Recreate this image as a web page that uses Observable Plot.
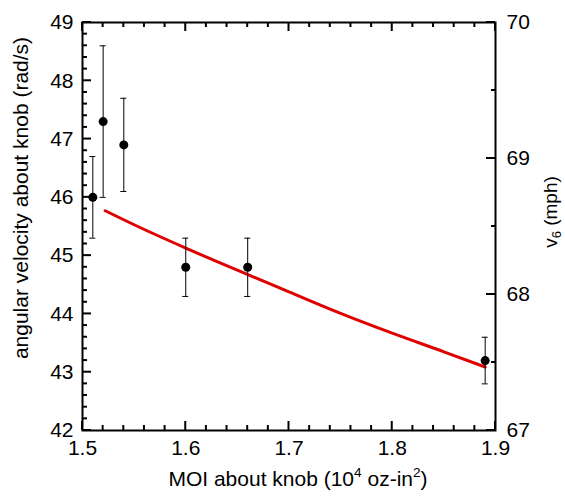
<!DOCTYPE html>
<html><head><meta charset="utf-8">
<script src="https://cdn.jsdelivr.net/npm/d3@7"></script>
<script src="https://cdn.jsdelivr.net/npm/@observablehq/plot@0.6"></script>
<style>
body{margin:0;background:#fff}
svg{font-family:"Liberation Sans",Arial,Helvetica,sans-serif}
</style>
</head><body><div id="chart"></div>
<script>
// measured data points with error bars
const moi = [1.51, 1.52, 1.54, 1.60, 1.66, 1.89];
const omega = [46.0, 47.3, 46.9, 44.8, 44.8, 43.2];
const errLow = [45.3, 46.0, 46.1, 44.3, 44.3, 42.8];
const errHigh = [46.7, 48.6, 47.7, 45.3, 45.3, 43.6];
// model curve
const fitMoi = [1.522, 1.55, 1.60, 1.65, 1.70, 1.75, 1.80, 1.85, 1.89];
const fitOmega = [45.77, 45.53, 45.13, 44.75, 44.38, 44.01, 43.67, 43.35, 43.09];
// axes
const xDomain = [1.5, 1.9];
const xTicks = [1.5, 1.6, 1.7, 1.8, 1.9];
const xMinor = [1.52,1.54,1.56,1.58,1.62,1.64,1.66,1.68,1.72,1.74,1.76,1.78,1.82,1.84,1.86,1.88];
const yDomain = [42, 49];
const yTicks = [42, 43, 44, 45, 46, 47, 48, 49];
const yMinor = [42.2,42.4,42.6,42.8,43.2,43.4,43.6,43.8,44.2,44.4,44.6,44.8,45.2,45.4,45.6,45.8,46.2,46.4,46.6,46.8,47.2,47.4,47.6,47.8,48.2,48.4,48.6,48.8];
const rightDomain = [67, 70];
const rightTicks = [67, 68, 69, 70];
const rightMinor = [67.5, 68.5, 69.5];

const toLeft = r => yDomain[0] + (r - rightDomain[0]) * (yDomain[1]-yDomain[0]) / (rightDomain[1]-rightDomain[0]);
const fromLeft = v => rightDomain[0] + (v - yDomain[0]) * (rightDomain[1]-rightDomain[0]) / (yDomain[1]-yDomain[0]);

const W = 565, H = 500, mL = 82, mR = 70, mT = 22, mB = 70;
const idx = moi.map((_, i) => i);
const fidx = fitMoi.map((_, i) => i);
const FS = 21;

const plot = Plot.plot({
  width: W, height: H,
  marginLeft: mL, marginRight: mR, marginTop: mT, marginBottom: mB,
  style: {fontFamily: '"Liberation Sans",Arial,Helvetica,sans-serif', fontSize: FS + "px", background: "#fff"},
  x: {domain: xDomain},
  y: {domain: yDomain},
  marks: [
    Plot.axisX(xTicks, {anchor: "bottom", tickSize: 0, tickPadding: 10, tickFormat: d => d.toFixed(1), label: null, fontSize: FS, fill: "black"}),
    Plot.axisY(yTicks, {anchor: "left", tickSize: 0, tickPadding: 9, tickFormat: d => String(d), label: null, fontSize: FS, fill: "black"}),
    Plot.axisY(rightTicks.map(toLeft), {anchor: "right", tickSize: 0, tickPadding: 11, tickFormat: d => String(Math.round(fromLeft(d))), label: null, fontSize: FS, fill: "black"}),
    Plot.line(fidx, {x: i => fitMoi[i], y: i => fitOmega[i], stroke: "#e00000", strokeWidth: 3, curve: "monotone-x"}),
    Plot.ruleX(idx, {x: i => moi[i], y1: i => errLow[i], y2: i => errHigh[i], stroke: "black", strokeWidth: 1}),
    Plot.ruleY(idx, {y: i => errHigh[i], x1: i => moi[i], x2: i => moi[i], insetLeft: -3, insetRight: -3, stroke: "black", strokeWidth: 1}),
    Plot.ruleY(idx, {y: i => errLow[i], x1: i => moi[i], x2: i => moi[i], insetLeft: -3, insetRight: -3, stroke: "black", strokeWidth: 1}),
    Plot.dot(idx, {x: i => moi[i], y: i => omega[i], r: 4.5, fill: "black", stroke: "none"}),
    Plot.frame({stroke: "black", strokeWidth: 2})
  ]
});

const svg = d3.select(plot);
const sx = v => plot.scale("x").apply(v);
const sy = v => plot.scale("y").apply(v);
const x0 = sx(xDomain[0]), x1 = sx(xDomain[1]);
const yB = sy(yDomain[0]), yT = sy(yDomain[1]);
const g = svg.append("g").attr("stroke", "black").attr("stroke-width", 2);
const addTicks = (vals, len, fn) => vals.forEach(v => { const [a, b, c, d] = fn(v, len); g.append("line").attr("x1", a).attr("y1", b).attr("x2", c).attr("y2", d); });
// bottom and top ticks (inward)
addTicks(xTicks, 9, (v, l) => [sx(v), yB, sx(v), yB - l]);
addTicks(xMinor, 5, (v, l) => [sx(v), yB, sx(v), yB - l]);
addTicks(xTicks, 9, (v, l) => [sx(v), yT, sx(v), yT + l]);
addTicks(xMinor, 5, (v, l) => [sx(v), yT, sx(v), yT + l]);
// left ticks
addTicks(yTicks, 9, (v, l) => [x0, sy(v), x0 + l, sy(v)]);
addTicks(yMinor, 5, (v, l) => [x0, sy(v), x0 + l, sy(v)]);
// right ticks (secondary axis)
addTicks(rightTicks, 9, (v, l) => [x1, sy(toLeft(v)), x1 - l, sy(toLeft(v))]);
addTicks(rightMinor, 4, (v, l) => [x1, sy(toLeft(v)), x1 - l, sy(toLeft(v))]);

// bottom title
const bt = svg.append("text")
  .attr("x", 298).attr("y", 486)
  .attr("text-anchor", "middle").attr("font-size", FS).attr("fill", "black");
bt.append("tspan").text("MOI about knob (10");
bt.append("tspan").attr("font-size", FS * 0.65).attr("dy", -9).text("4");
bt.append("tspan").attr("dy", 9).text(" oz-in");
bt.append("tspan").attr("font-size", FS * 0.65).attr("dy", -9).text("2");
bt.append("tspan").attr("dy", 9).text(")");
// left title
svg.append("text")
  .attr("transform", "translate(28,198) rotate(-90)")
  .attr("text-anchor", "middle").attr("font-size", FS).attr("fill", "black")
  .text("angular velocity about knob (rad/s)");
// right title
const rt = svg.append("text")
  .attr("transform", "translate(557,212) rotate(-90)")
  .attr("text-anchor", "middle").attr("font-size", 19).attr("fill", "black");
rt.append("tspan").text("v");
rt.append("tspan").attr("font-size", 13).attr("dy", 4).text("6");
rt.append("tspan").attr("dy", -4).text(" (mph)");

document.getElementById("chart").appendChild(plot);
</script>
</body></html>
